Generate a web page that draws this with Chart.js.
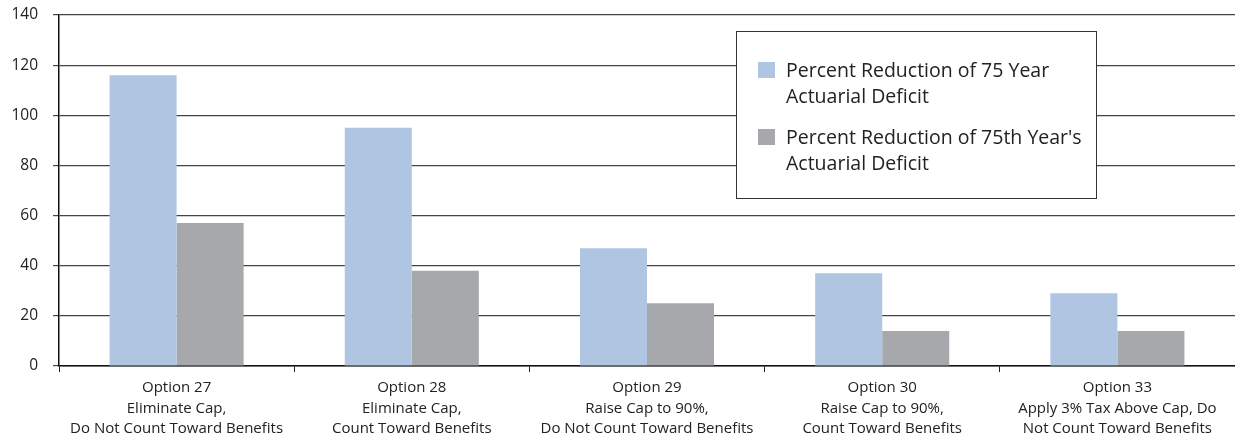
<!DOCTYPE html>
<html>
<head>
<meta charset="utf-8">
<script src="https://cdn.jsdelivr.net/npm/chart.js@4/dist/chart.umd.min.js"></script>
<style>
  html, body { margin: 0; padding: 0; background: #fff; }
  #wrap { position: relative; width: 1235px; height: 437px; }
</style>
</head>
<body>
<div id="wrap"><canvas id="chart" width="1235" height="437"></canvas></div>
<script>
// Categories (multi-line labels)
const categories = [
  ['Option 27', 'Eliminate Cap,', 'Do Not Count Toward Benefits'],
  ['Option 28', 'Eliminate Cap,', 'Count Toward Benefits'],
  ['Option 29', 'Raise Cap to 90%,', 'Do Not Count Toward Benefits'],
  ['Option 30', 'Raise Cap to 90%,', 'Count Toward Benefits'],
  ['Option 33', 'Apply 3% Tax Above Cap, Do', 'Not Count Toward Benefits']
];
const seriesNames = [
  ['Percent Reduction of 75 Year', 'Actuarial Deficit'],
  ["Percent Reduction of 75th Year's", 'Actuarial Deficit']
];
const reduction75Year = [116, 95, 47, 37, 29];
const reduction75thYear = [57, 38, 25, 14, 14];
const yTicks = [0, 20, 40, 60, 80, 100, 120, 140];

const FONT = "'Open Sans', 'DejaVu Sans', sans-serif";
const colors = ['#B0C5E2', '#A7A8AC'];

// Boxed legend drawn inside the plot area
const boxLegend = {
  id: 'boxLegend',
  afterDraw(chart) {
    const ctx = chart.ctx;
    const x = 736.5, y = 31.5, w = 360, h = 167;
    ctx.save();
    ctx.fillStyle = '#fff';
    ctx.fillRect(x, y, w, h);
    ctx.strokeStyle = '#333';
    ctx.lineWidth = 1;
    ctx.strokeRect(x, y, w, h);
    ctx.font = '19.5px ' + FONT;
    ctx.textBaseline = 'middle';
    ctx.textAlign = 'left';
    chart.data.datasets.forEach((ds, i) => {
      const top = 70 + i * 67;
      ctx.fillStyle = ds.backgroundColor;
      ctx.fillRect(758, top - 8, 17, 16);
      ctx.fillStyle = '#222';
      ds.label.forEach((line, j) => ctx.fillText(line, 786, top + 1 + j * 26));
    });
    ctx.restore();
  }
};

new Chart(document.getElementById('chart'), {
  type: 'bar',
  data: {
    labels: categories,
    datasets: [
      { label: seriesNames[0], data: reduction75Year, backgroundColor: colors[0] },
      { label: seriesNames[1], data: reduction75thYear, backgroundColor: colors[1] }
    ]
  },
  options: {
    responsive: false,
    animation: false,
    devicePixelRatio: 1,
    layout: { autoPadding: false, padding: { top: 15, right: 0, left: 0, bottom: 0 } },
    datasets: { bar: { categoryPercentage: 0.57, barPercentage: 1.0 } },
    plugins: { legend: { display: false }, tooltip: { enabled: false } },
    scales: {
      x: {
        grid: {
          offset: true,
          drawOnChartArea: false,
          drawTicks: true,
          tickLength: 6,
          color: '#222'
        },
        border: { color: '#111', width: 1.5 },
        ticks: {
          color: '#222',
          font: { family: FONT, size: 15, lineHeight: 1.35 },
          padding: 6,
          maxRotation: 0,
          autoSkip: false
        },
        afterFit(scale) { scale.height = 71; }
      },
      y: {
        min: 0, max: 140,
        afterBuildTicks(scale) { scale.ticks = yTicks.map(v => ({ value: v })); },
        grid: { color: '#444', lineWidth: 1.2, tickLength: 6 },
        border: { color: '#111', width: 1.5 },
        ticks: {
          color: '#222',
          font: { family: FONT, size: 15.5 },
          padding: 15
        },
        afterFit(scale) {
          scale.width = 59;
          // tick padding is for horizontal spacing only; keep the plot top snug
          scale.paddingTop = 9;
          scale.paddingBottom = 9;
        }
      }
    }
  },
  plugins: [boxLegend]
});
</script>
</body>
</html>
